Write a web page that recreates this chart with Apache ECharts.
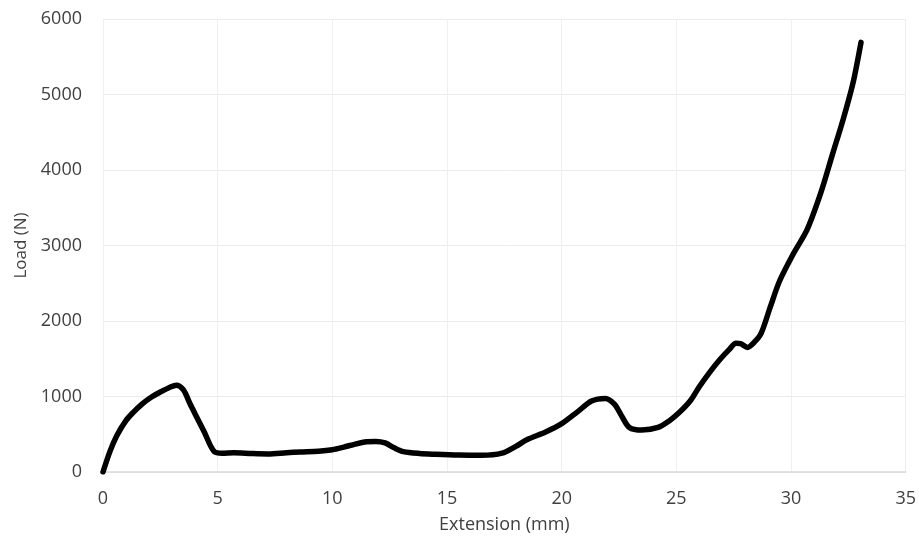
<!DOCTYPE html>
<html>
<head>
<meta charset="utf-8">
<script src="https://cdn.jsdelivr.net/npm/echarts@6/dist/echarts.min.js"></script>
<style>
html,body{margin:0;padding:0;background:#fff;}
#chart{width:919px;height:548px;}
</style>
</head>
<body>
<div id="chart"></div>
<script>
const extension = [0, 0.3, 0.6, 1.0, 1.32, 1.7, 2.1, 2.5, 2.9, 3.2, 3.5, 3.8, 4.1, 4.4, 4.85, 5.2, 5.7, 6.5, 7.2, 8.0, 8.6, 9.4, 10.0, 10.5, 11.0, 11.5, 11.9, 12.3, 12.7, 13.1, 13.8, 14.5, 15.5, 16.5, 17.4, 18.0, 18.5, 19.3, 20.0, 20.7, 21.3, 21.9, 22.3, 22.6, 22.95, 23.5, 24.2, 24.7, 25.1, 25.6, 26.0, 26.5, 26.9, 27.3, 27.6, 27.8, 28.1, 28.4, 28.7, 29.1, 29.5, 30.1, 30.7, 31.3, 31.8, 32.3, 32.7, 33.05];
const load = [0, 270, 480, 680, 790, 900, 990, 1060, 1120, 1150, 1090, 900, 720, 540, 270, 250, 255, 245, 240, 255, 265, 275, 295, 330, 370, 400, 405, 385, 320, 270, 245, 235, 225, 222, 250, 340, 430, 530, 640, 800, 940, 975, 900, 750, 590, 555, 590, 680, 780, 940, 1130, 1340, 1490, 1620, 1705, 1700, 1650, 1720, 1840, 2190, 2530, 2890, 3210, 3700, 4200, 4700, 5150, 5690];
const xTitle = 'Extension (mm)';
const yTitle = 'Load (N)';

const chart = echarts.init(document.getElementById('chart'));
const font = '"Open Sans", sans-serif';
chart.setOption({
  animation: false,
  backgroundColor: '#ffffff',
  grid: {left: 103, right: 13, top: 19, bottom: 76, containLabel: false},
  xAxis: {
    type: 'value', min: 0, max: 35, interval: 5,
    name: xTitle, nameLocation: 'middle', nameGap: 44,
    nameTextStyle: {fontFamily: font, fontSize: 18, color: '#404040'},
    axisLine: {show: true, lineStyle: {color: '#d9d9d9', width: 1.5}},
    axisTick: {show: false},
    axisLabel: {fontFamily: font, fontSize: 18, color: '#404040', margin: 18},
    splitLine: {show: true, lineStyle: {color: '#efefef', width: 1}}
  },
  yAxis: {
    type: 'value', min: 0, max: 6000, interval: 1000,
    name: yTitle, nameLocation: 'middle', nameGap: 73,
    nameTextStyle: {fontFamily: font, fontSize: 17, color: '#404040'},
    axisLine: {show: false},
    axisTick: {show: false},
    axisLabel: {fontFamily: font, fontSize: 18, color: '#404040', margin: 21, formatter: v => String(v)},
    splitLine: {show: true, lineStyle: {color: '#ebebeb', width: 1}}
  },
  series: [{
    type: 'line',
    data: extension.map((x, i) => [x, load[i]]),
    smooth: 0.3,
    symbol: 'none',
    lineStyle: {color: '#000000', width: 5.5, cap: 'round', join: 'round'}
  }]
});
</script>
</body>
</html>
